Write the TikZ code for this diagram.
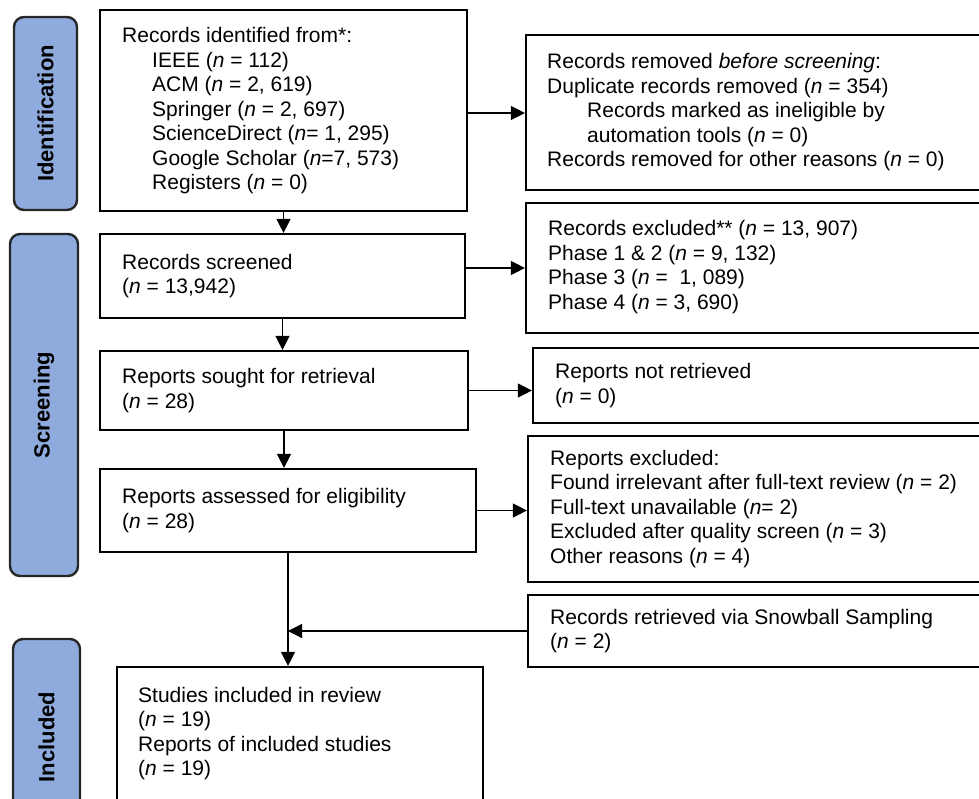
\documentclass[tikz,border=0pt]{standalone}
\usepackage{fontspec}
\setmainfont{Liberation Sans}
\usetikzlibrary{arrows.meta,calc}
\definecolor{labblue}{RGB}{143,170,220}
\newcommand{\nn}{\textit{n}}
\begin{document}
\begin{tikzpicture}[x=1pt,y=-1pt,
  box/.style={draw=black,line width=2.2pt,fill=white,inner sep=0pt},
  lab/.style={draw=black!85,line width=2.4pt,fill=labblue,rounded corners=10pt,inner sep=0pt},
  labtxt/.style={rotate=90,inner sep=0pt,font=\fontsize{22}{24}\selectfont\bfseries},
  txt/.style={inner sep=0pt,align=left,anchor=west,font=\fontsize{21}{24.5}\selectfont},
  arr/.style={line width=1.2pt,-{Triangle[length=14pt,width=14pt]}},
  ln/.style={line width=1.2pt}
]
\useasboundingbox (0,0) rectangle (979,798);
\clip (0,0) rectangle (979,798);

% phase labels
\node[lab,minimum width=63pt,minimum height=193pt] (LI) at (45.5,113.5) {};
\node[labtxt] (LIt) at (LI.center) {Identification};
\node[lab,minimum width=68pt,minimum height=342pt] (LS) at (44,405) {};
\node[labtxt] (LSt) at (LS.center) {Screening};
\node[lab,minimum width=67pt,minimum height=181pt] (LN) at (46.5,729.5) {};
\node[labtxt] (LNt) at (46.5,737) {Included};

% boxes
\node[box,minimum width=367pt,minimum height=201pt] (A) at (283.5,110.5) {};
\node[box,minimum width=464pt,minimum height=155pt] (B) at (758,112.5) {};
\node[box,minimum width=365pt,minimum height=84pt] (C) at (282.5,276) {};
\node[box,minimum width=464pt,minimum height=130pt] (D) at (758,268) {};
\node[box,minimum width=368pt,minimum height=79pt] (E) at (284,390.5) {};
\node[box,minimum width=457pt,minimum height=75pt] (F) at (761.5,385.5) {};
\node[box,minimum width=376pt,minimum height=83pt] (G) at (288,510.5) {};
\node[box,minimum width=462pt,minimum height=146pt] (H) at (759,509) {};
\node[box,minimum width=462pt,minimum height=72pt] (I) at (759,631) {};
\node[box,minimum width=366pt,minimum height=153pt] (J) at (300,743.5) {};

% texts
\node[txt] (At) at (122,111) {Records identified from*:\\
\hspace*{30pt}IEEE (\nn{} = 112)\\
\hspace*{30pt}ACM (\nn{} = 2, 619)\\
\hspace*{30pt}Springer (\nn{} = 2, 697)\\
\hspace*{30pt}ScienceDirect (\nn= 1, 295)\\
\hspace*{30pt}Google Scholar (\nn=7, 573)\\
\hspace*{30pt}Registers (\nn{} = 0)};
\node[txt] (Bt) at (547,112.5) {Records removed \textit{before screening}:\\
Duplicate records removed (\nn{} = 354)\\
\hspace*{40pt}Records marked as ineligible by\\
\hspace*{40pt}automation tools (\nn{} = 0)\\
Records removed for other reasons (\nn{} = 0)};
\node[txt] (Ct) at (122,276) {Records screened\\(\nn{} = 13,942)};
\node[txt] (Dt) at (548,267) {Records excluded** (\nn{} = 13, 907)\\
Phase 1 \& 2 (\nn{} = 9, 132)\\
Phase 3 (\nn{} = \ 1, 089)\\
Phase 4 (\nn{} = 3, 690)};
\node[txt] (Et) at (122,390.5) {Reports sought for retrieval\\(\nn{} = 28)};
\node[txt] (Ft) at (555,385.5) {Reports not retrieved\\(\nn{} = 0)};
\node[txt] (Gt) at (122,510.5) {Reports assessed for eligibility\\(\nn{} = 28)};
\node[txt] (Ht) at (550,509) {Reports excluded:\\
Found irrelevant after full-text review (\nn{} = 2)\\
Full-text unavailable (\nn= 2)\\
Excluded after quality screen (\nn{} = 3)\\
Other reasons (\nn{} = 4)};
\node[txt] (It) at (550,631) {Records retrieved via Snowball Sampling\\(\nn{} = 2)};
\node[txt,anchor=north west] (Jt) at (138,687) {Studies included in review\\
(\nn{} = 19)\\
Reports of included studies\\
(\nn{} = 19)};

% connectors
\draw[arr] (A.east |- 0,113) -- (B.west |- 0,113);
\draw[arr] (A.south) -- (A.south |- C.north);
\draw[arr] (C.east |- D.west) -- (D.west);
\draw[arr] (C.south) -- (C.south |- E.north);
\draw[arr] (E.east) -- (E.east -| F.west);
\draw[arr] (E.south) -- (E.south |- G.north);
\draw[arr] (G.east) -- (G.east -| H.west);
\draw[arr] (G.south) -- (G.south |- J.north);
\coordinate (M) at (G.south |- I.west);
\draw[arr] (I.west) -- (M);
\end{tikzpicture}
\end{document}
